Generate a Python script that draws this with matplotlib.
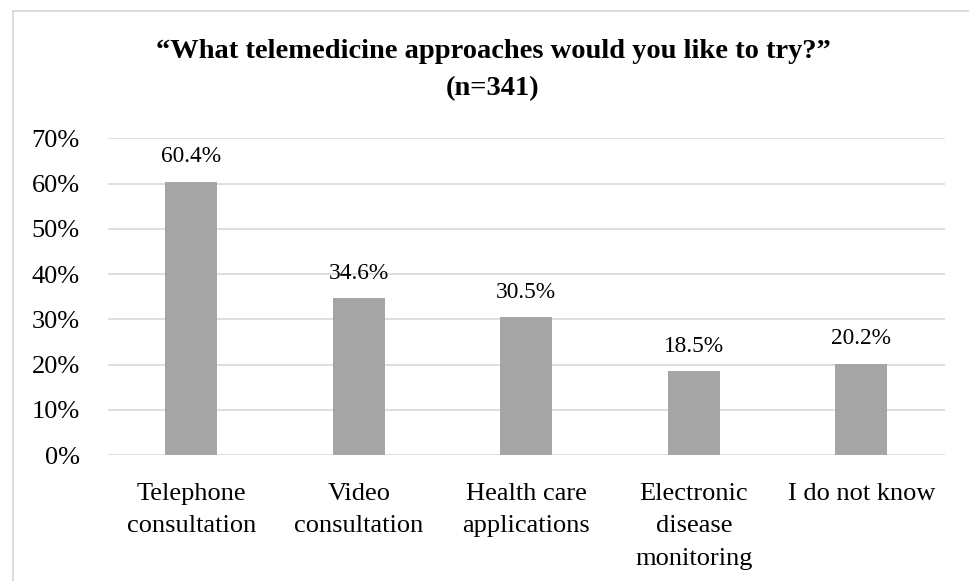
import matplotlib
matplotlib.use("Agg")
import matplotlib.pyplot as plt
from matplotlib.lines import Line2D

categories = ["Telephone\nconsultation", "Video\nconsultation", "Health care\napplications",
              "Electronic\ndisease\nmonitoring", "I do not know"]
values = [60.4, 34.6, 30.5, 18.5, 20.2]
value_labels = ["60.4%", "34.6%", "30.5%", "18.5%", "20.2%"]
yticks = [0, 10, 20, 30, 40, 50, 60, 70]
ytick_labels = ["0%", "10%", "20%", "30%", "40%", "50%", "60%", "70%"]
title = "\u201cWhat telemedicine approaches would you like to try?\u201d\n(n=341)"

W, H = 970, 581
FONT = ["Liberation Serif", "DejaVu Serif"]
plt.rcParams['font.family'] = FONT

fig = plt.figure(figsize=(W / 100, H / 100), dpi=100)
fig.patch.set_facecolor("white")

left, right, top, bottom = 107.7, 945, 138.3, 455
ax = fig.add_axes([left / W, 1 - bottom / H, (right - left) / W, (bottom - top) / H])

grid_c = "#d9d9d9"
x = list(range(len(categories)))
ax.bar(x, values, width=0.31, color="#a5a5a5", zorder=3)
ax.set_xlim(-0.5, len(categories) - 0.5)
ax.set_ylim(0, 70)
ax.set_yticks(yticks)
ax.set_yticklabels(ytick_labels)
ax.set_xticks(x)
ax.set_xticklabels(categories, linespacing=1.62)
for s in ax.spines.values():
    s.set_visible(False)
ax.tick_params(axis="both", length=0, labelsize=19, colors="black")
ax.tick_params(axis="y", pad=20)
ax.tick_params(axis="x", pad=20)
ax.grid(axis="y", color=grid_c, linewidth=1.2, zorder=0)
ax.set_axisbelow(True)

for xi, v, lab in zip(x, values, value_labels):
    ax.annotate(lab, (xi, v), xytext=(0, 18), textcoords="offset points",
                ha="center", va="center", fontsize=16.8)

fig.text(493 / W, 1 - 70 / H, title, ha="center", va="center", fontsize=20.5,
         fontweight="bold", linespacing=1.6)

# chart border (left and top edges visible)
fig.add_artist(Line2D([13 / W, 13 / W], [0, 1 - 11 / H], transform=fig.transFigure,
                      color=grid_c, linewidth=1.3))
fig.add_artist(Line2D([13 / W, 1], [1 - 11 / H, 1 - 11 / H], transform=fig.transFigure,
                      color=grid_c, linewidth=1.3))

fig.savefig("out.png", dpi=100, facecolor="white")
